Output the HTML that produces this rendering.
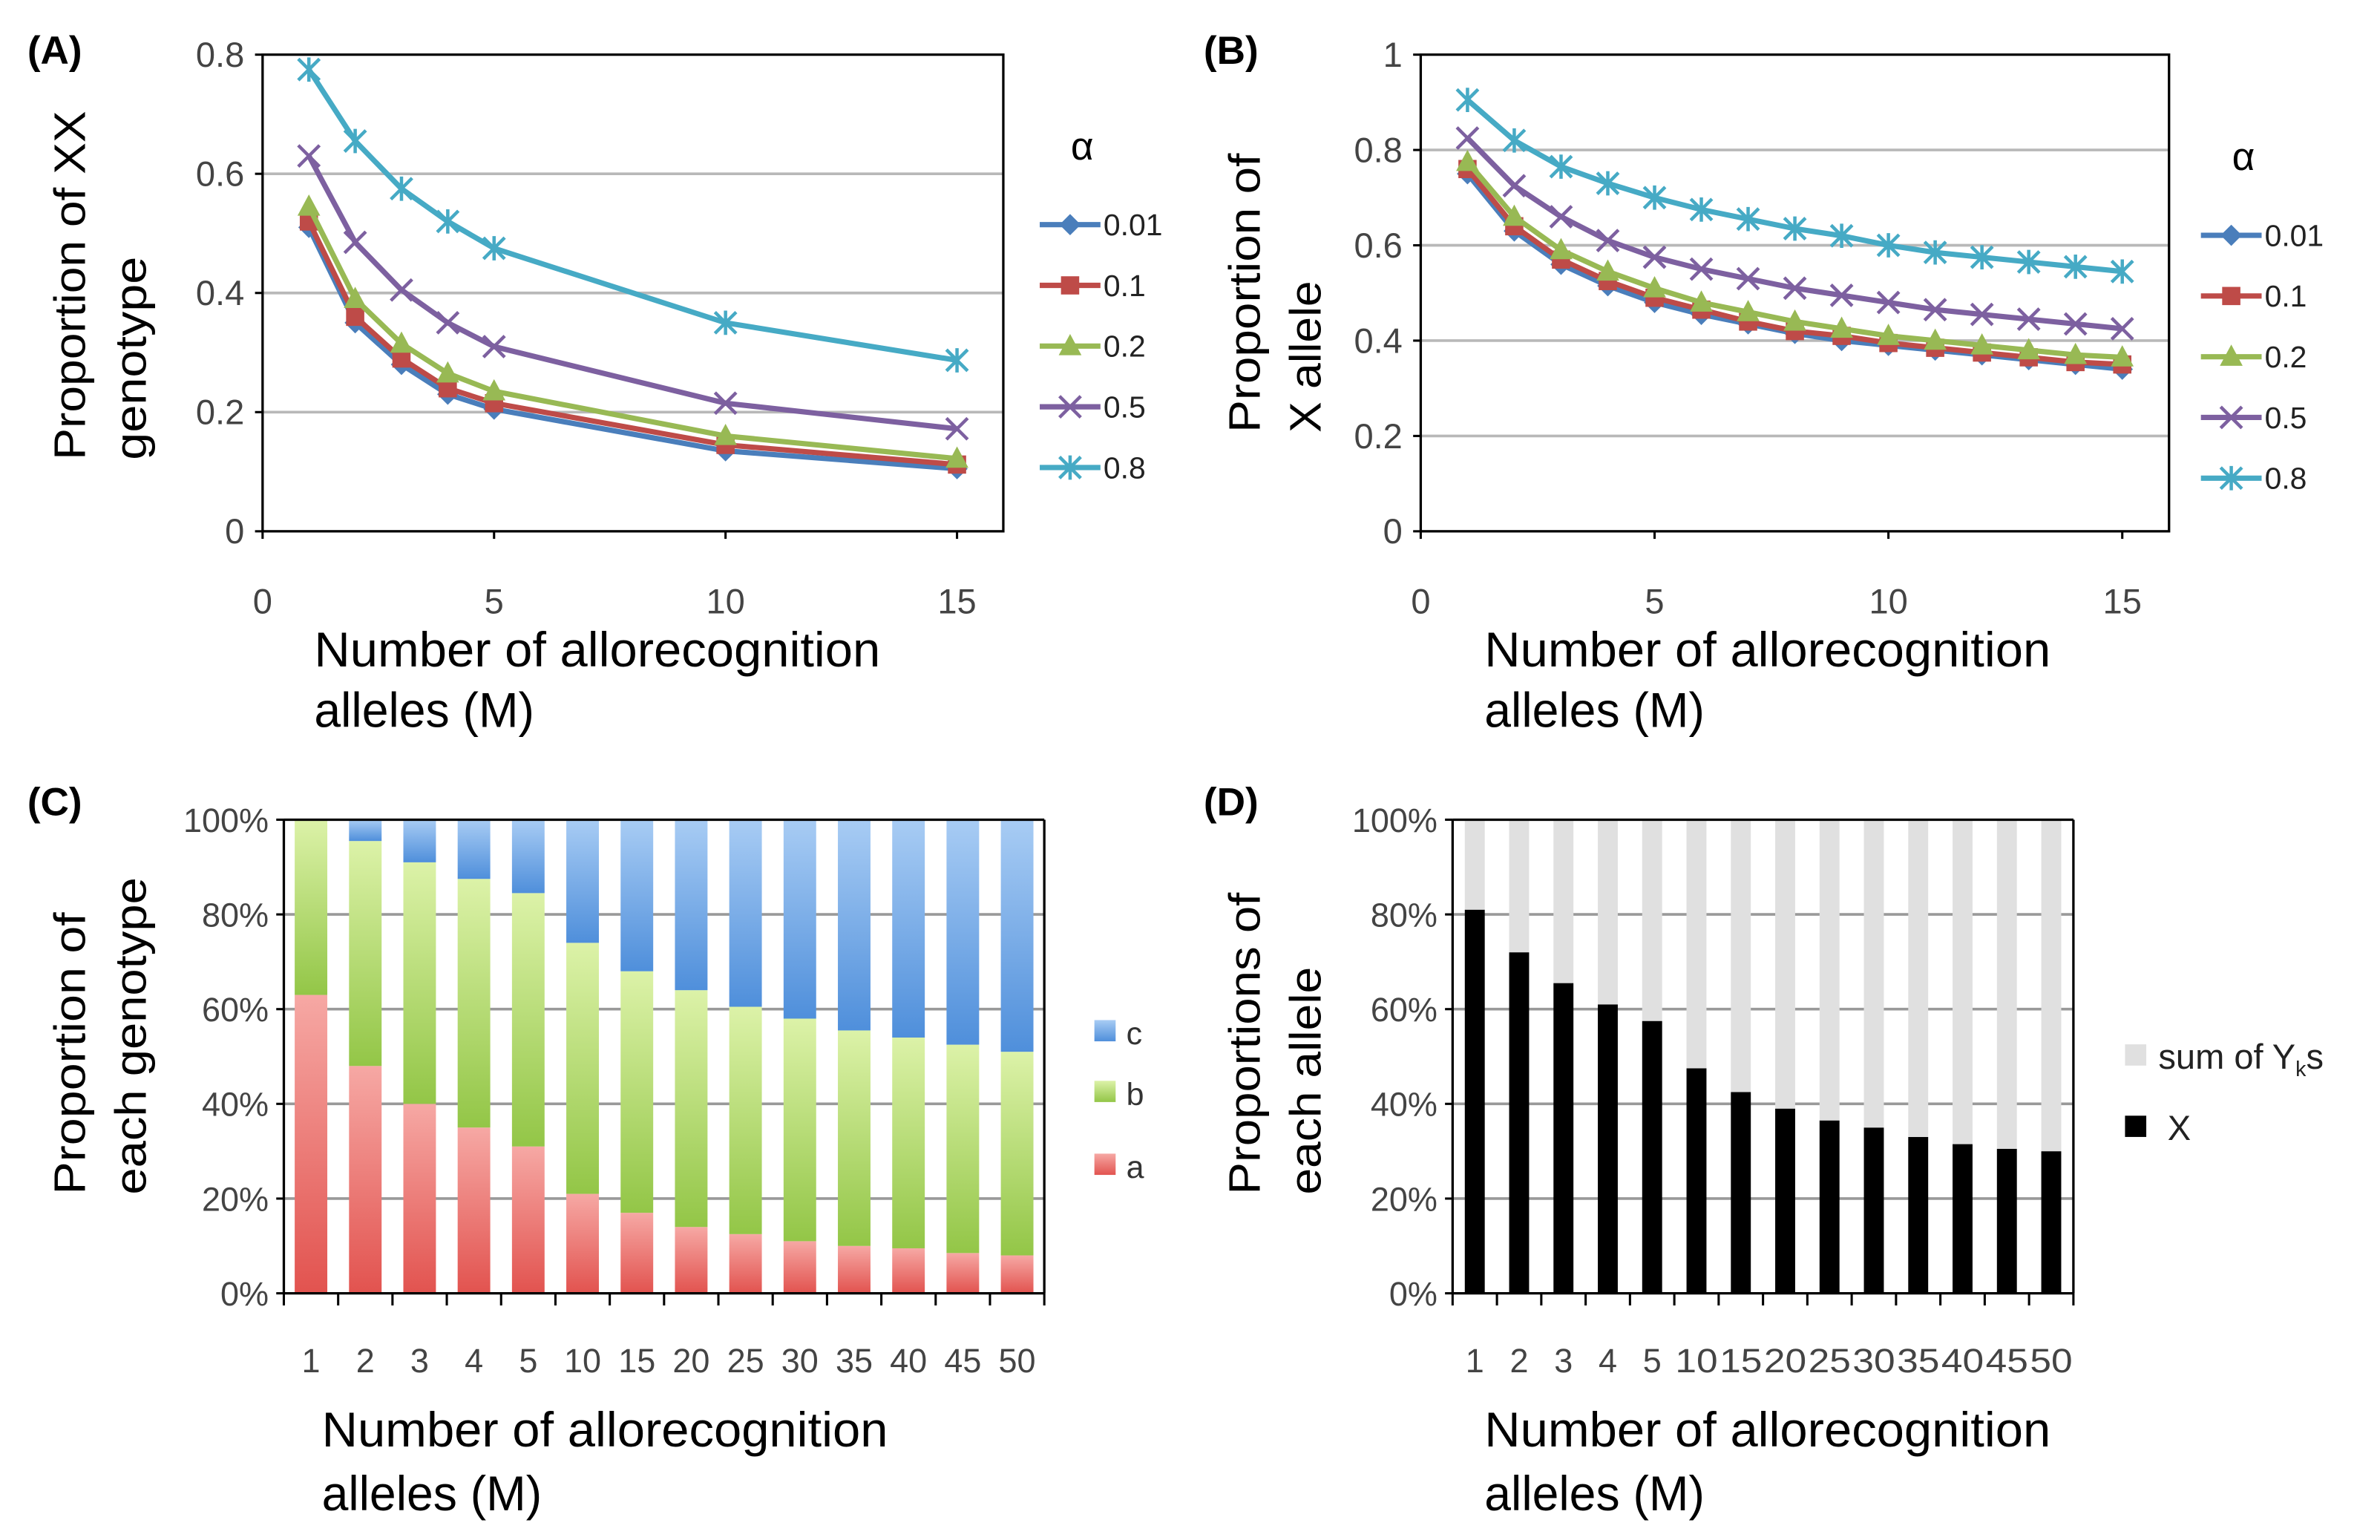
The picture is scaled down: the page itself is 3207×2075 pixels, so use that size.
<!DOCTYPE html>
<html><head><meta charset="utf-8"><style>
html,body{margin:0;padding:0;background:#fff;}
svg{display:block;font-family:"Liberation Sans",sans-serif;}
</style></head><body>
<svg id="fig" xmlns="http://www.w3.org/2000/svg" width="3207" height="2075" viewBox="0 0 3207 2075">
<defs>
<linearGradient id="gA" x1="0" y1="1" x2="0" y2="0"><stop offset="0" stop-color="#e2534f"/><stop offset="1" stop-color="#f6a8a4"/></linearGradient>
<linearGradient id="gB" x1="0" y1="1" x2="0" y2="0"><stop offset="0" stop-color="#93c647"/><stop offset="1" stop-color="#dcf2a8"/></linearGradient>
<linearGradient id="gC" x1="0" y1="1" x2="0" y2="0"><stop offset="0" stop-color="#4f8fdb"/><stop offset="1" stop-color="#a8ccf4"/></linearGradient>
</defs>
<g id="root" transform="scale(2.0453)"></g>
</svg>
<script>
// ---- Panel A data ----
const aX = [1,2,3,4,5,10,15];
const aS001 = [0.51,0.35,0.28,0.23,0.205,0.135,0.105];
const aS01 = [0.52,0.36,0.29,0.24,0.215,0.145,0.112];
const aS02 = [0.545,0.39,0.315,0.265,0.235,0.16,0.122];
const aS05 = [0.63,0.485,0.405,0.35,0.31,0.215,0.172];
const aS08 = [0.775,0.655,0.575,0.52,0.475,0.35,0.287];
const aYTicks = ["0","0.2","0.4","0.6","0.8"];
const xTicksLine = ["0","5","10","15"];
// ---- Panel B data ----
const bX = [1,2,3,4,5,6,7,8,9,10,11,12,13,14,15];
const bS001 = [0.75,0.63,0.56,0.515,0.48,0.455,0.435,0.415,0.40,0.39,0.38,0.37,0.36,0.35,0.34];
const bS01 = [0.76,0.64,0.57,0.525,0.49,0.465,0.44,0.42,0.41,0.395,0.385,0.375,0.365,0.355,0.35];
const bS02 = [0.775,0.66,0.59,0.545,0.51,0.48,0.46,0.44,0.425,0.41,0.40,0.39,0.38,0.37,0.365];
const bS05 = [0.825,0.725,0.66,0.61,0.575,0.55,0.53,0.51,0.495,0.48,0.465,0.455,0.445,0.435,0.425];
const bS08 = [0.905,0.82,0.765,0.73,0.70,0.675,0.655,0.635,0.62,0.60,0.585,0.575,0.565,0.555,0.545];
const bYTicks = ["0","0.2","0.4","0.6","0.8","1"];
const alphaLabels = ["0.01","0.1","0.2","0.5","0.8"];
// ---- Panel C data ----
const barCats = ["1","2","3","4","5","10","15","20","25","30","35","40","45","50"];
const cA = [63,48,40,35,31,21,17,14,12.5,11,10,9.5,8.5,8];
const cB = [37,47.5,51,52.5,53.5,53,51,50,48,47,45.5,44.5,44,43];
const cC = [0,4.5,9,12.5,15.5,26,32,36,39.5,42,44.5,46,47.5,49];
const pctTicks = ["0%","20%","40%","60%","80%","100%"];
// ---- Panel D data ----
const dX = [81,72,65.5,61,57.5,47.5,42.5,39,36.5,35,33,31.5,30.5,30];

const NS="http://www.w3.org/2000/svg";
const root=document.getElementById('root');
function el(tag,attrs,parent,txt){const e=document.createElementNS(NS,tag);for(const k in attrs)e.setAttribute(k,attrs[k]);if(txt!==undefined)e.textContent=txt;(parent||root).appendChild(e);return e;}
const colors=["#4a7ebb","#be4b48","#98b954","#7d60a0","#46aac5"];
const markers=["diamond","square","triangle","x","star"];

function marker(g,type,x,y,c){
  let m;
  if(type==="diamond") m=el('path',{d:`M${x} ${y-7}L${x+7} ${y}L${x} ${y+7}L${x-7} ${y}Z`,fill:c},g);
  else if(type==="square") m=el('rect',{x:x-6,y:y-6,width:12,height:12,fill:c},g);
  else if(type==="triangle") m=el('path',{d:`M${x} ${y-8}L${x+7.5} ${y+6}L${x-7.5} ${y+6}Z`,fill:c},g);
  else if(type==="x") m=el('path',{d:`M${x-7} ${y-7}L${x+7} ${y+7}M${x+7} ${y-7}L${x-7} ${y+7}`,stroke:c,'stroke-width':2.2,fill:'none'},g);
  else m=el('path',{d:`M${x-7} ${y-7}L${x+7} ${y+7}M${x+7} ${y-7}L${x-7} ${y+7}M${x} ${y-8}L${x} ${y+8}`,stroke:c,'stroke-width':2.2,fill:'none'},g);
  
  
}

function lineChart(id,L,R,T,B,xmax,ymax,yTicks,xs,series,legX,legAlphaY){
  const g=el('g',{});  
  const sx=v=>L+(R-L)*v/xmax, sy=v=>B-(B-T)*v/ymax;
  yTicks.forEach((t,i)=>{
    const v=parseFloat(t), y=sy(v);
    if(v>0&&v<ymax){const gl=el('line',{x1:L,x2:R,y1:y,y2:y,stroke:'#b8b8b8','stroke-width':1.8},g);}
    const tl=el('text',{x:L-12,y:y+8,'text-anchor':'end','font-size':23,fill:'#444'},g,t);
    
    el('line',{x1:L-5,x2:L,y1:y,y2:y,stroke:'#000','stroke-width':1.5},g);
  });
  xTicksLine.forEach(t=>{const x=sx(parseFloat(t));
    el('line',{x1:x,x2:x,y1:B,y2:B+5,stroke:'#000','stroke-width':1.5},g);
    const tl=el('text',{x:x,y:B+54,'text-anchor':'middle','font-size':23,fill:'#444'},g,t);
    });
  const fr=el('rect',{x:L,y:T,width:R-L,height:B-T,fill:'none',stroke:'#000','stroke-width':1.6},g);
  
  series.forEach((s,k)=>{
    const pts=xs.map((x,i)=>sx(x)+','+sy(s[i])).join(' ');
    const pl=el('polyline',{points:pts,fill:'none',stroke:colors[k],'stroke-width':3.5,'stroke-linejoin':'round'},g);
    
    xs.forEach((x,i)=>marker(g,markers[k],sx(x),sy(s[i]),colors[k]));
  });
  const al=el('text',{x:legX+28,y:legAlphaY,'font-size':26,fill:'#000','text-anchor':'middle'},g,'α');
  
  alphaLabels.forEach((lab,k)=>{
    const y=legAlphaY+43+k*40;
    const lg=el('g',{},g); 
    el('line',{x1:legX,x2:legX+40,y1:y,y2:y,stroke:colors[k],'stroke-width':3.5},lg);
    marker(lg,markers[k],legX+20,y,colors[k]);
    el('text',{x:legX+42,y:y+7,'font-size':20,fill:'#222'},lg,lab);
  });
}

function stackChart(id,L,R,T,B,stacks,fills,barFrac){
  const g=el('g',{});  
  const n=barCats.length, w=(R-L)/n, sy=v=>B-(B-T)*v/100;
  pctTicks.forEach(t=>{const v=parseFloat(t),y=sy(v);
    if(v>0&&v<100){const gl=el('line',{x1:L,x2:R,y1:y,y2:y,stroke:'#999','stroke-width':1.8},g);}
    el('line',{x1:L-5,x2:L,y1:y,y2:y,stroke:'#000','stroke-width':1.5},g);
    const tl=el('text',{x:L-10,y:y+8,'text-anchor':'end','font-size':22,fill:'#444'},g,t);
    });
  barCats.forEach((c,i)=>{
    const cx=L+w*(i+0.5), bw=w*barFrac; let acc=0;
    stacks.forEach((s,k)=>{
      const r=el('rect',{x:cx-bw/2,y:sy(acc+s[i]),width:bw,height:sy(acc)-sy(acc+s[i]),fill:fills[k]},g);
      
      acc+=s[i];
    });
  });
  el('line',{x1:L,x2:R,y1:T,y2:T,stroke:'#000','stroke-width':1.6},g);
  el('line',{x1:R,x2:R,y1:T,y2:B,stroke:'#000','stroke-width':1.6},g);
  el('line',{x1:L,x2:L,y1:T,y2:B,stroke:'#000','stroke-width':1.6},g);
  el('line',{x1:L,x2:R,y1:B,y2:B,stroke:'#000','stroke-width':1.6},g);
  for(let i=0;i<=n;i++) el('line',{x1:L+w*i,x2:L+w*i,y1:B,y2:B+8,stroke:'#000','stroke-width':1.5},g);
  return {g,w};
}

lineChart('chart-a',173,661,36,350,16,0.8,aYTicks,aX,[aS001,aS01,aS02,aS05,aS08],685,105);
lineChart('chart-b',936,1429,36,350,16,1,bYTicks,bX,[bS001,bS01,bS02,bS05,bS08],1450,112);

const cc=stackChart('chart-c',187,688,540,852,[cA,cB,cC],['url(#gA)','url(#gB)','url(#gC)'],0.6);
barCats.forEach((c,i)=>{const t=el('text',{x:187+cc.w*(i+0.5),y:904,'text-anchor':'middle','font-size':22,fill:'#444'},cc.g,c);});
[['c','url(#gC)',680],['b','url(#gB)',720],['a','url(#gA)',768]].forEach(([lab,f,y])=>{
  const lg=el('g',{});
  el('rect',{x:721,y:y-8,width:14,height:14,fill:f},lg);
  el('text',{x:742,y:y+8,'font-size':21,fill:'#333'},lg,lab);
});

const dY=dX.map(v=>100-v);
const dc=stackChart('chart-d',957,1366,540,852,[dX,dY],['#000','#e0e0e0'],0.45);
barCats.forEach((c,i)=>{const t=el('text',{x:957+dc.w*(i+0.5),y:904,'text-anchor':'middle','font-size':22,fill:'#444','textLength':c.length>1?28:0,'lengthAdjust':'spacingAndGlyphs'},dc.g,c);if(c.length<2)t.removeAttribute('textLength');});
{
 const l1=el('g',{});
 el('rect',{x:1400,y:688,width:14,height:14,fill:'#e0e0e0'},l1);
 const t=el('text',{x:1422,y:704,'font-size':23,fill:'#222'},l1);t.textContent='sum of Y';
 el('tspan',{'font-size':14,dy:5},t,'k');el('tspan',{'font-size':23,dy:-5},t,'s');
 const l2=el('g',{});
 el('rect',{x:1400,y:735,width:14,height:14,fill:'#000'},l2);
 el('text',{x:1428,y:751,'font-size':23,fill:'#222'},l2,'X');
}

function txt(name,x,y,s,opts){const t=el('text',Object.assign({x:x,y:y,fill:'#000'},opts),root,s);return t;}
[['panel-label-a',18,42,'(A)'],['panel-label-b',793,42,'(B)'],['panel-label-c',18,537,'(C)'],['panel-label-d',793,537,'(D)']].forEach(a=>txt(a[0],a[1],a[2],a[3],{'font-size':26,'font-weight':'bold'}));
const xt=[[207,439,479],[978,439,479],[212,953,995],[978,953,995]];
xt.forEach((p,i)=>{
  txt('x-axis-title',p[0],p[1],'Number of allorecognition',{'font-size':32,textLength:373,lengthAdjust:'spacingAndGlyphs'});
  txt('x-axis-title',p[0],p[2],'alleles (M)',{'font-size':32,textLength:145,lengthAdjust:'spacingAndGlyphs'});
});
function ytitle(x,yStart,s,len){txt('y-axis-title',0,0,s,{'font-size':29,transform:`translate(${x},${yStart}) rotate(-90)`,textLength:len,lengthAdjust:'spacingAndGlyphs'});}
ytitle(56,303,'Proportion of XX',230);ytitle(96,303,'genotype',134);
ytitle(830,285,'Proportion of',184);ytitle(870,285,'X allele',100);
ytitle(56,787,'Proportion of',186);ytitle(96,787,'each genotype',209);
ytitle(830,787,'Proportions of',199);ytitle(870,787,'each allele',150);
</script>
</body></html>
